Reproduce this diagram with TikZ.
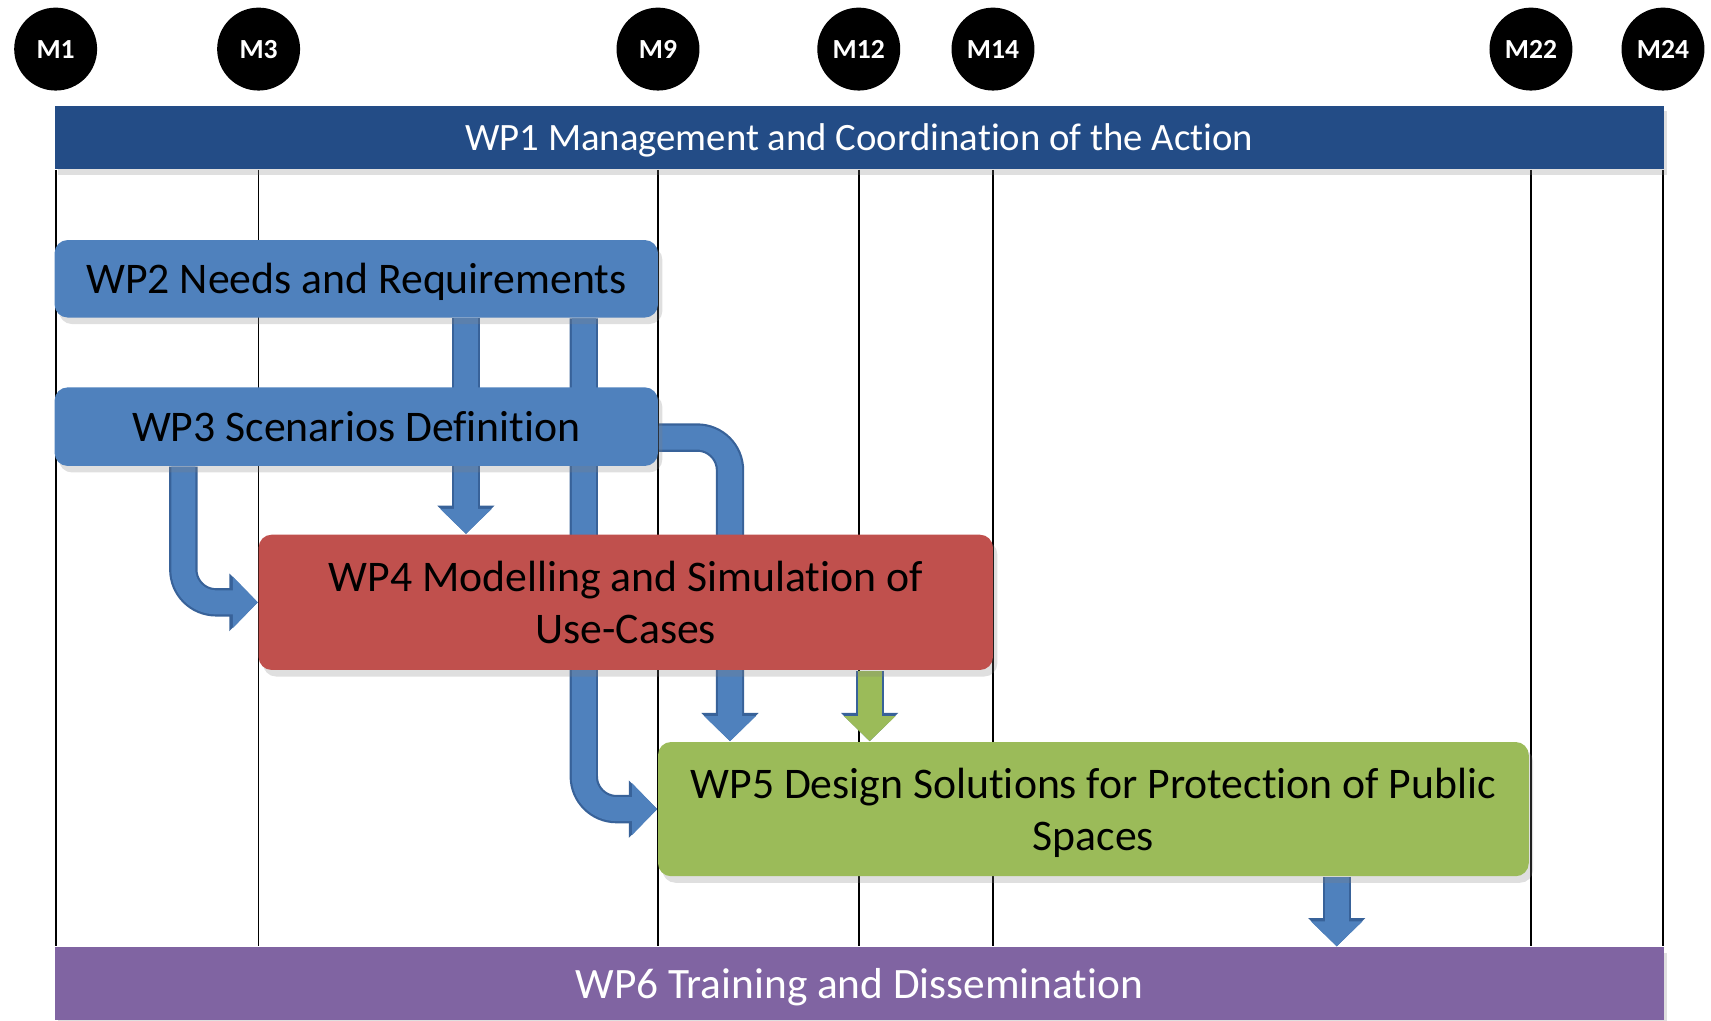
\documentclass[tikz,border=0pt]{standalone}
\usepackage{fontspec}
\setmainfont{Carlito}[Ligatures=NoCommon]
\usetikzlibrary{arrows.meta,shadows,backgrounds}

\definecolor{wpnavy}{RGB}{35,76,134}
\definecolor{wpblue}{RGB}{79,129,189}
\definecolor{wpedge}{RGB}{56,98,153}
\definecolor{wpred}{RGB}{192,80,77}
\definecolor{wpgreen}{RGB}{155,187,89}
\definecolor{wppurple}{RGB}{128,100,162}

\tikzset{
  milestone/.style={circle, fill=black, text=white, minimum size=7.6mm, inner sep=0pt,
    font=\bfseries\fontsize{7.2}{8}\selectfont},
  bar/.style={rectangle, minimum width=147.5mm, text=white, text depth=0pt,
    drop shadow={opacity=0.25, shadow xshift=0.3mm, shadow yshift=-0.5mm}},
  wpbox/.style={rectangle, rounded corners=1.2mm, align=center, text=black, text depth=0pt,
    font=\fontsize{11.4}{13.7}\selectfont,
    drop shadow={opacity=0.25, shadow xshift=0.4mm, shadow yshift=-0.6mm}},
  gridline/.style={draw=black, line width=0.45pt},
  wpflow/.style={draw=#1, line width=2.2mm, rounded corners=3mm,
    -{Triangle[width=4.6mm,length=2.3mm]},
    preaction={draw=wpedge, line width=2.6mm, -{Triangle[width=5.1mm,length=2.6mm]}}},
  wpflow/.default=wpblue
}

\begin{document}
\begin{tikzpicture}[x=0.1mm, y=-0.1mm]
        \useasboundingbox (0,0) rectangle (1568,935);

        % Milestones
        \node (m1) [milestone] at (51,45) {M1};
        \node (m3) [milestone] at (237,45) {M3};
        \node (m9) [milestone] at (603,45) {M9};
        \node (m12) [milestone] at (787,45) {M12};
        \node (m14) [milestone] at (910,45) {M14};
        \node (m22) [milestone] at (1403,45) {M22};
        \node (m24) [milestone] at (1524,45) {M24};

        % Work packages
        \node (wp1) [bar, fill=wpnavy, minimum height=5.8mm, font=\fontsize{10.1}{12}\selectfont]
            at (787.5,126) {WP1 Management and Coordination of the Action};
        \node (wp6) [bar, fill=wppurple, minimum height=6.7mm, font=\fontsize{11.3}{13}\selectfont]
            at (787.5,901.5) {WP6 Training and Dissemination};
        \node (wp2) [wpbox, fill=wpblue, minimum width=55.3mm, minimum height=7.1mm]
            at (326.5,255.5) {WP2 Needs and Requirements};
        \node (wp3) [wpbox, fill=wpblue, minimum width=55.3mm, minimum height=7.2mm]
            at (326.5,391) {WP3 Scenarios Definition};
        \node (wp4) [wpbox, fill=wpred, minimum width=67.3mm, minimum height=12.4mm]
            at (573.5,552) {WP4 Modelling and Simulation of\\Use-Cases};
        \node (wp5) [wpbox, fill=wpgreen, minimum width=79.8mm, minimum height=12.3mm]
            at (1002,741.5) {WP5 Design Solutions for Protection of Public\\Spaces};

        % Arrow columns
        \coordinate (a1) at (427,0);
        \coordinate (a2) at (535,0);
        \coordinate (a3) at (168,0);
        \coordinate (a4) at (669,0);
        \coordinate (a5) at (797,0);
        \coordinate (a6) at (1225,0);

        \begin{scope}[on background layer]
        % Month lines
        \foreach \m in {m1,m3,m9,m12,m14,m22,m24}
            \draw [gridline] (wp1.south -| \m) -- (wp6.north -| \m);

        % Edges
        \draw [wpflow] (wp2.south -| a1) -- (wp4.north -| a1);
        \draw [wpflow] (wp2.south -| a2) |- (wp5.west);
        \draw [wpflow] (wp3.south -| a3) |- (wp4.west);
        \draw [wpflow] ([yshift=-1mm]wp3.east) -| (wp5.north -| a4);
        \draw [wpflow=wpgreen] (wp4.south -| a5) -- (wp5.north -| a5);
        \draw [wpflow] (wp5.south -| a6) -- (wp6.north -| a6);
        \end{scope}

    \end{tikzpicture}
\end{document}
